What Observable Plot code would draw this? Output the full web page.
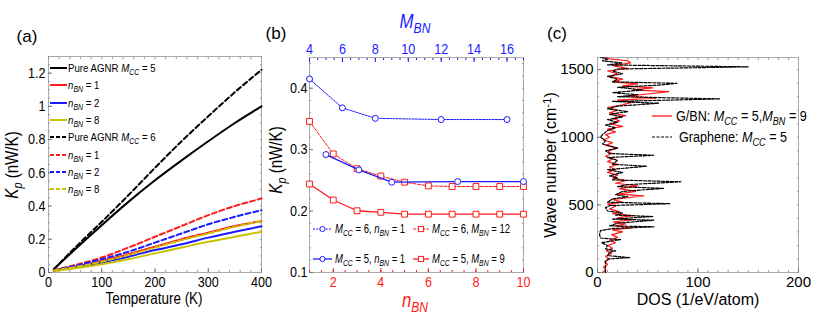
<!DOCTYPE html>
<html><head><meta charset="utf-8">
<script src="https://cdn.jsdelivr.net/npm/d3@7"></script>
<script src="https://cdn.jsdelivr.net/npm/@observablehq/plot@0.6"></script>
<style>
body{margin:0;background:#fff;}
#root{position:relative;width:818px;height:327px;overflow:hidden;font-family:"Liberation Sans",Arial,sans-serif;color:#000;}
.abs{position:absolute;white-space:nowrap;}
.cen{transform:translate(-50%,-50%);}
.cenN{transform:translate(-50%,-50%) scaleX(0.84);}
.rot{transform:translate(-50%,-50%) rotate(-90deg);}
.rotN{transform:translate(-50%,-50%) rotate(-90deg) scaleX(0.84);}
.sq{display:inline-block;transform:scaleX(0.84);transform-origin:0 50%;}
.sqb{display:inline-block;transform:scaleX(0.76);transform-origin:0 50%;}
.sq2{display:inline-block;transform:scaleX(0.9);transform-origin:0 50%;}
sub{font-size:0.72em;vertical-align:-0.35em;line-height:0;}
sup{font-size:0.72em;vertical-align:0.45em;line-height:0;}
.row{display:flex;align-items:center;}
</style></head><body>
<div id="root"></div>
<script>
// ---------- Panel (a): thermal conductance vs temperature ----------
const temps = [10, 50, 100, 150, 200, 250, 300, 350, 400];
const kPureM5 = [0.02, 0.14, 0.285, 0.425, 0.555, 0.675, 0.79, 0.90, 1.0];
const kM5n1   = [0.012, 0.035, 0.07, 0.11, 0.155, 0.20, 0.24, 0.28, 0.31];
const kM5n2   = [0.01, 0.032, 0.06, 0.095, 0.135, 0.17, 0.21, 0.245, 0.278];
const kM5n8   = [0.008, 0.025, 0.05, 0.08, 0.115, 0.15, 0.185, 0.215, 0.245];
const kPureM6 = [0.02, 0.15, 0.305, 0.465, 0.63, 0.79, 0.94, 1.085, 1.22];
const kM6n1   = [0.015, 0.045, 0.09, 0.15, 0.215, 0.28, 0.345, 0.40, 0.445];
const kM6n2   = [0.012, 0.04, 0.08, 0.125, 0.18, 0.235, 0.29, 0.335, 0.375];
const kM6n8   = [0.012, 0.033, 0.065, 0.105, 0.15, 0.195, 0.235, 0.275, 0.31];
const ticksA_x = [0, 100, 200, 300, 400];
const ticksA_y = [0, 0.2, 0.4, 0.6, 0.8, 1.0, 1.2];

// ---------- Panel (b) ----------
const nBN = [1, 2, 3, 4, 5, 6, 7, 8, 9, 10];
const kM6_MBN12 = [0.346, 0.293, 0.269, 0.257, 0.247, 0.241, 0.240, 0.240, 0.240, 0.240];
const kM5_MBN9  = [0.244, 0.218, 0.2005, 0.198, 0.195, 0.195, 0.195, 0.195, 0.195, 0.195];
const mBN_M6 = [4, 6, 8, 12, 16];
const kM6_n1 = [0.415, 0.368, 0.351, 0.349, 0.349];
const mBN_M5 = [5, 7, 9, 13, 17];
const kM5_n1 = [0.292, 0.267, 0.247, 0.248, 0.248];
const ticksB_bottom = [2, 4, 6, 8, 10];
const ticksB_top = [4, 6, 8, 10, 12, 14, 16];
const ticksB_y = [0.1, 0.2, 0.3, 0.4];

// ---------- Panel (c): phonon DOS ----------
const wnGraphene = [0,40,80,100,110,125,150,160,175,200,220,243,255,280,310,325,338,345,365,387,395,414,425,440,455,480,495,509,520,545,560,575,600,622,635,650,671,685,700,715,740,760,786,800,830,850,867,880,900,920,950,975,1000,1020,1050,1070,1090,1110,1130,1150,1170,1190,1210,1230,1252,1265,1284,1300,1315,1330,1350,1370,1385,1399,1410,1430,1450,1470,1490,1505,1521,1535,1550,1565,1580,1590];
const dosGraphene = [8,8,8,10,32,10,12,18,8,10,4,23,3,2,3,15,56,12,20,56,15,55,18,25,10,8,12,72,10,15,30,18,25,66,20,30,83,15,20,12,25,10,49,15,20,10,56,12,8,20,5,8,3,5,10,18,8,20,10,25,12,30,10,20,61,15,122,20,40,15,45,20,60,79,15,20,10,25,15,20,150,10,25,5,10,3];
const wnGBN = [0,20,40,60,80,100,120,140,160,180,200,220,240,260,280,300,315,330,345,360,375,390,405,420,435,450,470,490,505,520,540,566,580,600,620,640,660,680,700,720,740,760,780,800,820,840,860,880,900,920,940,960,980,1000,1020,1040,1060,1080,1100,1120,1140,1160,1180,1200,1220,1240,1260,1275,1290,1305,1320,1338,1350,1365,1380,1395,1410,1430,1450,1470,1490,1510,1530,1550,1566,1580,1590];
const dosGBN = [5,8,6,10,7,12,8,14,9,15,10,18,12,20,14,25,15,33,18,28,16,36,20,35,15,22,12,18,10,25,15,46,20,38,22,40,18,28,15,20,10,18,12,20,10,15,8,14,10,20,8,15,6,12,8,18,10,25,12,22,15,28,12,20,10,25,35,20,58,30,50,71,35,55,25,40,15,25,12,20,10,30,15,33,30,12,8];
const ticksC_x = [0, 100, 200];
const ticksC_y = [0, 500, 1000, 1500];

const root = document.getElementById("root");
const RED = "#ff1a1a", BLUE = "#1a1aff", YEL = "#c8c200";
const FONT = '"Liberation Sans",Arial,sans-serif';

function place(el, left, top) {
  const d = document.createElement("div");
  d.className = "abs"; d.style.left = left + "px"; d.style.top = top + "px";
  d.appendChild(el); root.appendChild(d); return d;
}
function html(left, top, s, cls, style) {
  const d = document.createElement("div");
  d.className = "abs " + (cls || "");
  d.style.left = left + "px"; d.style.top = top + "px";
  if (style) d.style.cssText += style;
  d.innerHTML = s; root.appendChild(d); return d;
}
function narrowTicks(svg, s) {
  svg.querySelectorAll("text").forEach(t => {
    const tr = t.getAttribute("transform");
    if (tr) t.setAttribute("transform", tr + ` scale(${s},1)`);
  });
}
function swatch(w, color, dash, sw, marker) {
  let m = "";
  if (marker === "circle") m = `<circle cx="${w/2}" cy="5" r="2.6" fill="white" stroke="${color}" stroke-width="1"/>`;
  if (marker === "square") m = `<rect x="${w/2-2.6}" y="2.4" width="5.2" height="5.2" fill="white" stroke="${color}" stroke-width="1"/>`;
  return `<svg width="${w}" height="10" style="display:block;flex:none"><line x1="0" y1="5" x2="${w}" y2="5" stroke="${color}" stroke-width="${sw}" ${dash ? `stroke-dasharray="${dash}"` : ""}/>${m}</svg>`;
}
const rows = (xs, ys) => xs.map((x, i) => ({x, y: ys[i]}));
const fmt = d => String(+(+d).toFixed(2));
const minor = (o) => Object.assign({tickFormat: () => "", label: null, tickSize: -2, stroke: "#999"}, o);

// ---------- Panel (a) ----------
const seriesA = [
  {v: kPureM5, c: "black", d: null}, {v: kM5n1, c: RED, d: null},
  {v: kM5n2, c: BLUE, d: null}, {v: kM5n8, c: YEL, d: null},
  {v: kPureM6, c: "black", d: "5,3"}, {v: kM6n1, c: RED, d: "5,3"},
  {v: kM6n2, c: BLUE, d: "5,3"}, {v: kM6n8, c: YEL, d: "5,3"}
];
const plotA = Plot.plot({
  width: 270, height: 327, marginLeft: 48, marginRight: 9, marginTop: 56, marginBottom: 55,
  x: {domain: [0, 400]}, y: {domain: [0, 1.3]},
  style: {background: "transparent", fontFamily: FONT, fontSize: "15px", overflow: "visible"},
  marks: [
    Plot.frame({stroke: "#aaa"}),
    Plot.axisX(minor({ticks: d3.range(0, 401, 20)})),
    Plot.axisX(minor({anchor: "top", ticks: d3.range(0, 401, 20)})),
    Plot.axisY(minor({ticks: d3.range(0, 1.31, 0.05)})),
    Plot.axisY(minor({anchor: "right", ticks: d3.range(0, 1.31, 0.05)})),
    Plot.axisX({ticks: ticksA_x, tickSize: -4, tickPadding: 8, label: null, stroke: "#777", fill: "black"}),
    Plot.axisY({ticks: ticksA_y, tickSize: -4, tickPadding: 7, label: null, tickFormat: fmt, stroke: "#777", fill: "black"}),
    ...seriesA.map(s => Plot.line(rows(temps, s.v), {x: "x", y: "y", stroke: s.c, strokeWidth: 2, strokeDasharray: s.d, curve: "monotone-x"}))
  ]
});
narrowTicks(plotA, 0.84);
place(plotA, 0, 0);

// legend (a)
const legA = [
  ["black", null, "Pure AGNR <i>M</i><sub><i>CC</i></sub> = 5"],
  [RED, null, "<i>n</i><sub><i>BN</i></sub> = 1"],
  [BLUE, null, "<i>n</i><sub><i>BN</i></sub> = 2"],
  [YEL, null, "<i>n</i><sub><i>BN</i></sub> = 8"],
  ["black", "4,2", "Pure AGNR <i>M</i><sub><i>CC</i></sub> = 6"],
  [RED, "4,2", "<i>n</i><sub><i>BN</i></sub> = 1"],
  [BLUE, "4,2", "<i>n</i><sub><i>BN</i></sub> = 2"],
  [YEL, "4,2", "<i>n</i><sub><i>BN</i></sub> = 8"]
];
legA.forEach((r, i) => {
  html(50, 69 + i * 17.3 - 7, `<div class="row">${swatch(17, r[0], r[1], 2)}<span class="sq" style="margin-left:1px">${r[2]}</span></div>`, "", "font-size:11.5px;");
});
html(27, 37, "(a)", "cen", "font-size:17px;");
html(12, 165, "<i>K</i><sub><i>p</i></sub> (nW/K)", "rotN", "font-size:18px;");
html(154, 299, "Temperature (K)", "cenN", "font-size:16px;");

// ---------- Panel (b): bottom axis (n_BN) layer ----------
const plotB1 = Plot.plot({
  width: 275, height: 327, marginLeft: 39, marginRight: 22, marginTop: 57, marginBottom: 55,
  x: {domain: [1, 10]}, y: {domain: [0.1, 0.45]},
  style: {background: "transparent", fontFamily: FONT, fontSize: "15px", overflow: "visible"},
  marks: [
    Plot.frame({stroke: "#aaa"}),
    Plot.axisX(minor({ticks: d3.range(1, 10.01, 0.5), stroke: RED})),
    Plot.axisY(minor({ticks: d3.range(0.1, 0.451, 0.02)})),
    Plot.axisY(minor({anchor: "right", ticks: d3.range(0.1, 0.451, 0.02)})),
    Plot.axisX({ticks: ticksB_bottom, tickSize: -4, tickPadding: 8, label: null, stroke: RED, fill: RED}),
    Plot.axisY({ticks: ticksB_y, tickSize: -4, tickPadding: 6, label: null, tickFormat: fmt, stroke: "#777", fill: "black"}),
    Plot.line(rows(nBN, kM6_MBN12), {x: "x", y: "y", stroke: RED, strokeWidth: 1, strokeDasharray: "3,1.5"}),
    Plot.dot(rows(nBN, kM6_MBN12), {x: "x", y: "y", symbol: "square", r: 3.3, stroke: RED, fill: "white", strokeWidth: 1}),
    Plot.line(rows(nBN, kM5_MBN9), {x: "x", y: "y", stroke: RED, strokeWidth: 1.3}),
    Plot.dot(rows(nBN, kM5_MBN9), {x: "x", y: "y", symbol: "square", r: 3.3, stroke: RED, fill: "white", strokeWidth: 1})
  ]
});
narrowTicks(plotB1, 0.84);
place(plotB1, 270, 0);

// ---------- Panel (b): top axis (M_BN) layer ----------
const plotB2 = Plot.plot({
  width: 275, height: 327, marginLeft: 39, marginRight: 22, marginTop: 57, marginBottom: 55,
  x: {domain: [4, 17]}, y: {domain: [0.1, 0.45], axis: null},
  style: {background: "transparent", fontFamily: FONT, fontSize: "15px", overflow: "visible"},
  marks: [
    Plot.axisX(minor({anchor: "top", ticks: d3.range(4, 17.01, 0.5), stroke: BLUE})),
    Plot.axisX({anchor: "top", ticks: ticksB_top, tickSize: -4, tickPadding: 8, label: null, stroke: BLUE, fill: BLUE}),
    Plot.line(rows(mBN_M6, kM6_n1), {x: "x", y: "y", stroke: BLUE, strokeWidth: 1, strokeDasharray: "2,1.2"}),
    Plot.dot(rows(mBN_M6, kM6_n1), {x: "x", y: "y", r: 3, stroke: BLUE, fill: "white", strokeWidth: 1}),
    Plot.line(rows(mBN_M5, kM5_n1), {x: "x", y: "y", stroke: BLUE, strokeWidth: 1.3}),
    Plot.dot(rows(mBN_M5, kM5_n1), {x: "x", y: "y", r: 3, stroke: BLUE, fill: "white", strokeWidth: 1})
  ]
});
narrowTicks(plotB2, 0.84);
place(plotB2, 270, 0);

// legend (b)
const legB = [
  [313, 230, BLUE, "2,1.2", 1, "circle", "<i>M</i><sub><i>CC</i></sub> = 6, <i>n</i><sub><i>BN</i></sub> = 1"],
  [413, 230, RED, "3,1.5", 1, "square", "<i>M</i><sub><i>CC</i></sub> = 6, <i>M</i><sub><i>BN</i></sub> = 12"],
  [313, 260, BLUE, null, 1.3, "circle", "<i>M</i><sub><i>CC</i></sub> = 5, <i>n</i><sub><i>BN</i></sub> = 1"],
  [413, 260, RED, null, 1.3, "square", "<i>M</i><sub><i>CC</i></sub> = 5, <i>M</i><sub><i>BN</i></sub> = 9"]
];
legB.forEach(r => {
  html(r[0], r[1] - 8, `<div class="row">${swatch(r[2] === BLUE ? 19 : 16, r[2], r[3], r[4], r[5])}<span class="sqb" style="margin-left:3px">${r[6]}</span></div>`, "", "font-size:12.5px;");
});
html(276, 34, "(b)", "cen", "font-size:17px;");
html(276, 160, "<i>K</i><sub><i>p</i></sub> (nW/K)", "rotN", "font-size:18px;");
html(415, 21, "<i>M</i><sub><i>BN</i></sub>", "cenN", "font-size:20px;color:" + BLUE + ";");
html(415, 300, "<i>n</i><sub><i>BN</i></sub>", "cenN", "font-size:20px;color:" + RED + ";");

// ---------- Panel (c) ----------
const plotC = Plot.plot({
  width: 273, height: 327, marginLeft: 52, marginRight: 20, marginTop: 57, marginBottom: 55,
  x: {domain: [0, 200]}, y: {domain: [0, 1590]},
  style: {background: "transparent", fontFamily: FONT, fontSize: "15px", overflow: "visible"},
  marks: [
    Plot.frame({stroke: "#aaa"}),
    Plot.axisX(minor({ticks: d3.range(0, 201, 10)})),
    Plot.axisX(minor({anchor: "top", ticks: d3.range(0, 201, 10)})),
    Plot.axisY(minor({ticks: d3.range(0, 1590, 100)})),
    Plot.axisY(minor({anchor: "right", ticks: d3.range(0, 1590, 100)})),
    Plot.axisX({ticks: ticksC_x, tickSize: -4, tickPadding: 8, label: null, tickFormat: d => String(d), stroke: "#777", fill: "black"}),
    Plot.axisY({ticks: ticksC_y, tickSize: -4, tickPadding: 8, label: null, tickFormat: d => String(d), stroke: "#777", fill: "black"}),
    Plot.line(rows(dosGBN, wnGBN), {x: "x", y: "y", stroke: RED, strokeWidth: 1.2}),
    Plot.line(rows(dosGraphene, wnGraphene), {x: "x", y: "y", stroke: "black", strokeWidth: 1.2, strokeDasharray: "3,1.5"})
  ]
});
place(plotC, 545, 0);

html(652, 117 - 9, `<div class="row">${swatch(20, RED, null, 1.3)}<span class="sq2" style="margin-left:4px">G/BN: <i>M</i><sub><i>CC</i></sub> = 5,<i>M</i><sub><i>BN</i></sub> = 9</span></div>`, "", "font-size:14px;");
html(652, 138 - 9, `<div class="row">${swatch(20, "black", "3,1.5", 1.2)}<span class="sq2" style="margin-left:7px">Graphene: <i>M</i><sub><i>CC</i></sub> = 5</span></div>`, "", "font-size:14px;");
html(557, 34, "(c)", "cen", "font-size:17px;");
html(551, 165, "Wave number (cm<sup>-1</sup>)", "rot", "font-size:16px;");
html(698, 300, "DOS (1/eV/atom)", "cen", "font-size:16px;");
</script>
</body></html>
